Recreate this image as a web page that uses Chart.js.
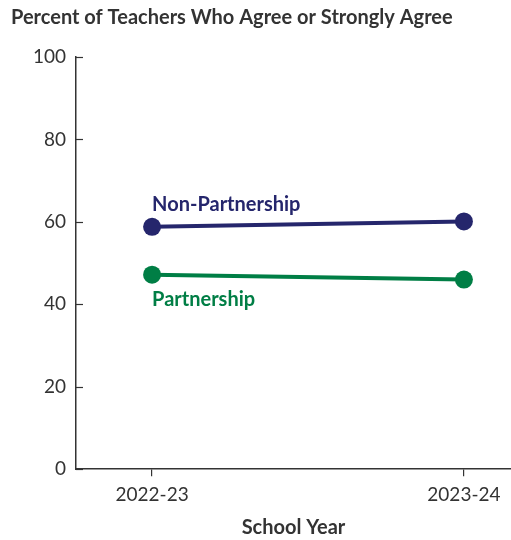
<!DOCTYPE html>
<html lang="en">
<head>
<meta charset="UTF-8" />
<title>Percent of Teachers Who Agree or Strongly Agree</title>
<script src="https://cdn.jsdelivr.net/npm/chart.js"></script>
<style>
  html, body { margin: 0; padding: 0; background: #fff; }
  #wrap { width: 511px; height: 540px; }
</style>
</head>
<body>
<div id="wrap"><canvas id="agreeChart"></canvas></div>
<script>
  const schoolYears = ['2022-23', '2023-24'];
  const nonPartnership = [58.8, 60.1];
  const partnership = [47.2, 46.0];
  const yTicks = [0, 20, 40, 60, 80, 100];

  const NAVY = '#25266c';
  const GREEN = '#007e45';
  const INK = '#333333';
  const FONT = 'Lato, "Open Sans", sans-serif';

  // y ticks sit inside the plot, to the right of the axis line
  const innerTicks = {
    id: 'innerTicks',
    afterDraw(chart) {
      const { ctx, scales: { y }, chartArea } = chart;
      ctx.save();
      ctx.strokeStyle = INK;
      ctx.lineWidth = 1.2;
      yTicks.forEach(v => {
        const py = Math.round(y.getPixelForValue(v)) + 0.5;
        ctx.beginPath();
        ctx.moveTo(chartArea.left, py);
        ctx.lineTo(chartArea.left + 7, py);
        ctx.stroke();
      });
      ctx.restore();
    }
  };

  // series names written next to the first point of each line
  const seriesLabels = {
    id: 'seriesLabels',
    afterDatasetsDraw(chart) {
      const { ctx } = chart;
      ctx.save();
      ctx.font = 'bold 20px ' + FONT;
      ctx.textAlign = 'left';
      ctx.textBaseline = 'middle';
      chart.data.datasets.forEach((ds, i) => {
        const pt = chart.getDatasetMeta(i).data[0];
        ctx.fillStyle = ds.borderColor;
        const dy = ds.label === 'Non-Partnership' ? -22 : 25;
        ctx.fillText(ds.label, pt.x, pt.y + dy);
      });
      ctx.restore();
    }
  };

  const toPoints = arr => arr.map((v, i) => ({ x: i, y: v }));

  new Chart(document.getElementById('agreeChart'), {
    type: 'line',
    data: {
      datasets: [
        {
          label: 'Non-Partnership',
          data: toPoints(nonPartnership),
          borderColor: NAVY,
          backgroundColor: NAVY,
          borderWidth: 4,
          pointRadius: 9,
          pointHoverRadius: 9,
          pointBorderWidth: 0
        },
        {
          label: 'Partnership',
          data: toPoints(partnership),
          borderColor: GREEN,
          backgroundColor: GREEN,
          borderWidth: 4,
          pointRadius: 9,
          pointHoverRadius: 9,
          pointBorderWidth: 0
        }
      ]
    },
    options: {
      responsive: true,
      maintainAspectRatio: false,
      animation: false,
      layout: { autoPadding: false, padding: { left: 11, right: 0, top: 0, bottom: 0 } },
      plugins: {
        legend: { display: false },
        tooltip: { enabled: false },
        title: {
          display: true,
          text: 'Percent of Teachers Who Agree or Strongly Agree',
          align: 'start',
          color: INK,
          font: { family: FONT, size: 20, weight: 'bold' },
          padding: { top: 6, bottom: 27 }
        }
      },
      scales: {
        x: {
          type: 'linear',
          min: -0.244,
          max: 1.151,
          afterBuildTicks: s => { s.ticks = schoolYears.map((_, i) => ({ value: i })); },
          // let the axis run to the right edge of the canvas
          afterFit: s => { s.paddingLeft = 0; s.paddingRight = 0; },
          ticks: {
            color: INK,
            font: { family: FONT, size: 19 },
            padding: 7,
            callback: v => schoolYears[v]
          },
          grid: {
            drawOnChartArea: false,
            drawTicks: true,
            tickLength: 7,
            color: INK,
            lineWidth: 1.2
          },
          border: { color: INK, width: 1.5 },
          title: {
            display: true,
            text: 'School Year',
            color: INK,
            font: { family: FONT, size: 20, weight: 'bold' },
            padding: { top: 3, bottom: 0 }
          }
        },
        y: {
          min: 0,
          max: 100,
          afterBuildTicks: s => { s.ticks = yTicks.map(v => ({ value: v })); },
          afterFit: s => { s.width = 65; },
          ticks: {
            color: INK,
            font: { family: FONT, size: 19 },
            padding: 10
          },
          grid: { drawOnChartArea: false, drawTicks: false },
          border: { color: INK, width: 1.5 }
        }
      }
    },
    plugins: [innerTicks, seriesLabels]
  });
</script>
</body>
</html>
